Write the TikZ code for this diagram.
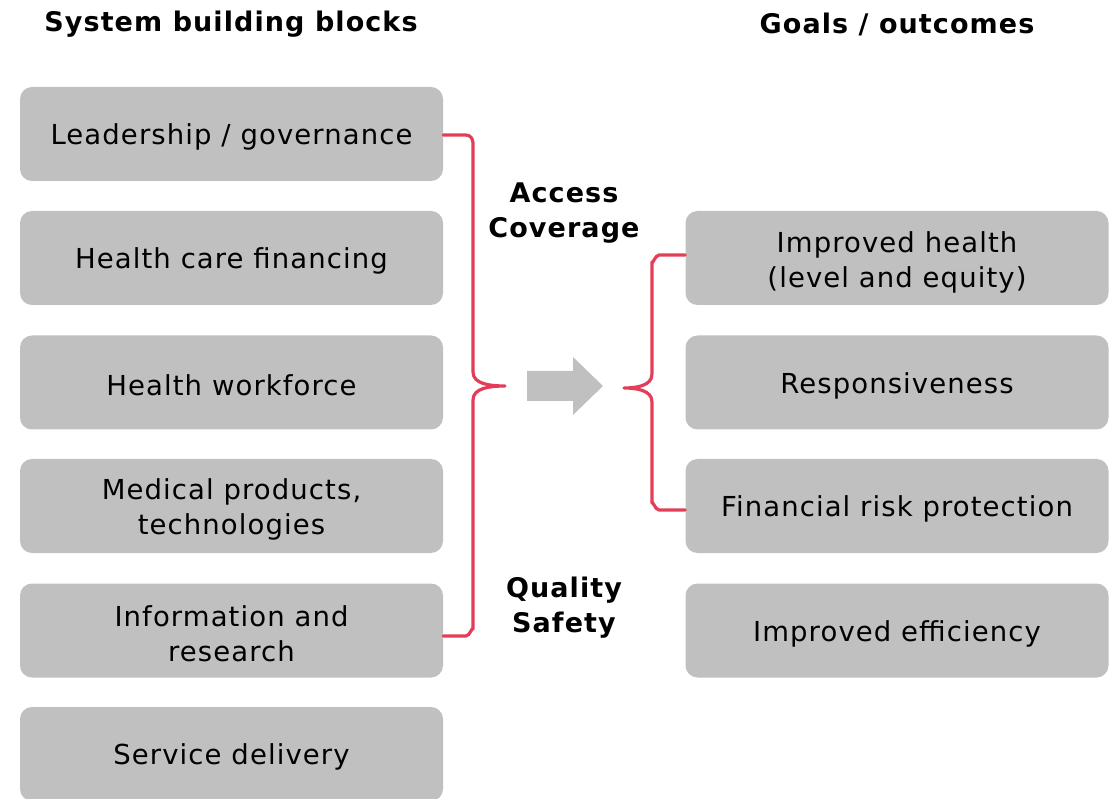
\documentclass[tikz,border=0pt]{standalone}
\usepackage{fontspec}
\setmainfont{DejaVu Sans}[LetterSpace=4]
\definecolor{boxgray}{RGB}{192,192,192}
\definecolor{bracered}{RGB}{226,62,88}
\begin{document}
\begin{tikzpicture}[x=1pt,y=-1pt,
  blk/.style={fill=boxgray,rounded corners=12pt,minimum width=423pt,minimum height=94pt,inner sep=0pt},
  txt/.style={align=center,font=\fontsize{27.5}{35}\selectfont,inner sep=0pt},
  hdr/.style={font=\fontsize{27}{35}\selectfont\bfseries},
  lbl/.style={font=\fontsize{27}{35}\selectfont\bfseries,align=center},
  brc/.style={draw=bracered,line width=3.2pt,line cap=round,line join=round}]
\useasboundingbox (0,0) rectangle (1117,799);
\node[hdr] (h1) at (231,24) {System building blocks};
\node[hdr] (h2) at (897,24) {Goals / outcomes};
% left blocks
\node[blk] (l1) at (231.5,134) {};
\node[blk] (l2) at (231.5,258) {};
\node[blk] (l3) at (231.5,382.5) {};
\node[blk] (l4) at (231.5,506) {};
\node[blk] (l5) at (231.5,630.5) {};
\node[blk] (l6) at (231.5,754) {};
\node[txt] (tl1) at ([yshift=-3pt]l1.center) {Leadership / governance};
\node[txt] (tl2) at ([yshift=-3pt]l2.center) {Health care financing};
\node[txt] (tl3) at ([yshift=-3pt]l3.center) {Health workforce};
\node[txt] (tl4) at ([yshift=-3pt]l4.center) {Medical products,\\technologies};
\node[txt] (tl5) at ([yshift=-3pt]l5.center) {Information and\\research};
\node[txt] (tl6) at ([yshift=-3pt]l6.center) {Service delivery};
% right blocks
\node[blk] (r1) at (897,258) {};
\node[blk] (r2) at (897,382.5) {};
\node[blk] (r3) at (897,506) {};
\node[blk] (r4) at (897,630.5) {};
\node[txt] (tr1) at ([yshift=-4pt]r1.center) {Improved health\\(level and equity)};
\node[txt] (tr2) at ([yshift=-3pt]r2.center) {Responsiveness};
\node[txt] (tr3) at ([yshift=-3pt]r3.center) {Financial risk protection};
\node[txt] (tr4) at ([yshift=-3pt]r4.center) {Improved efficiency};
% labels
\node[lbl] (acc) at (564,213) {Access\\Coverage};
\node[lbl] (qual) at (564,608) {Quality\\Safety};
% arrow
\fill[boxgray] (527,371) -- (573,371) -- (573,357) -- (603,386) -- (573,415) -- (573,401) -- (527,401) -- cycle;
% left brace
\coordinate (ltip) at (505,386);
\draw[brc] (l1.east |- 0,135) -- (466,135) to[out=0,in=90] (473,143) -- (473,372)
  .. controls (473,384) and (490,386) .. (ltip)
  .. controls (490,386) and (473,388) .. (473,400) -- (473,629) to[out=90,in=0] (466,636) -- (l5.east |- 0,636);
% right brace
\coordinate (rtip) at (624,388);
\draw[brc] (r1.west |- 0,255) -- (659,255) to[out=180,in=-90] (652,262) -- (652,374)
  .. controls (652,386) and (636,388) .. (rtip)
  .. controls (636,388) and (652,390) .. (652,402) -- (652,503) to[out=90,in=180] (659,510) -- (r3.west |- 0,510);
\end{tikzpicture}
\end{document}
